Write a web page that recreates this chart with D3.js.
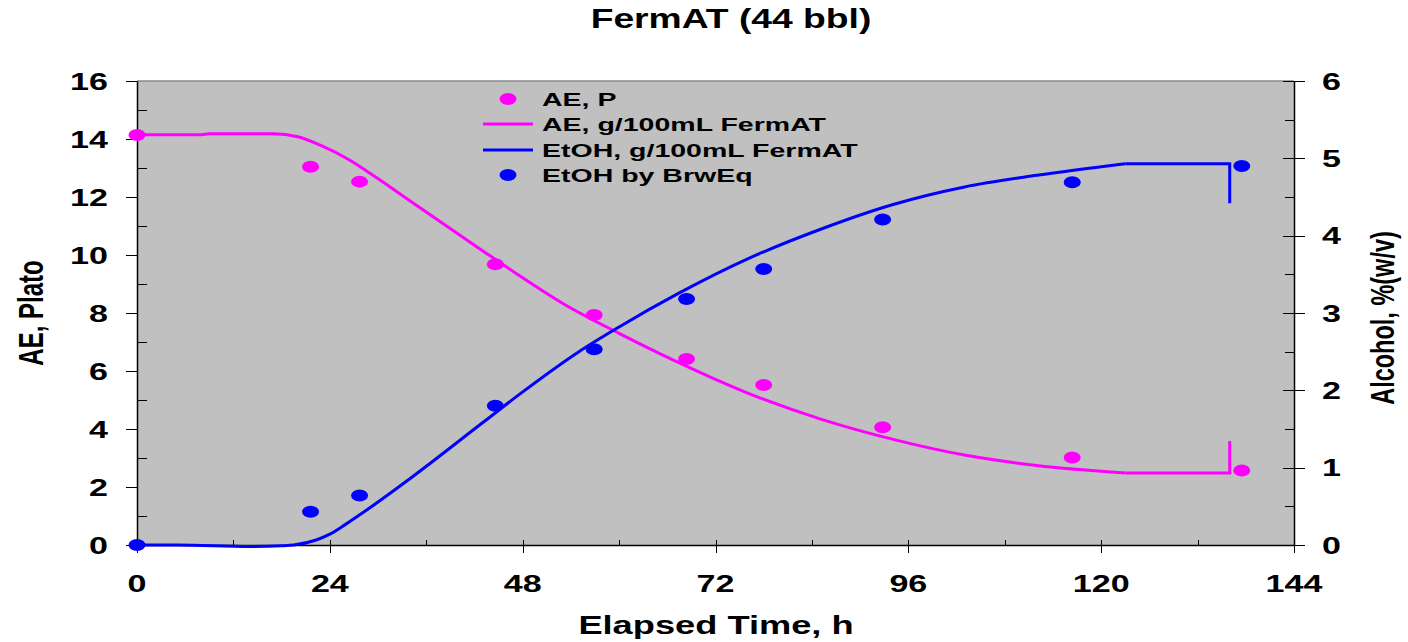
<!DOCTYPE html>
<html lang="en">
<head>
<meta charset="UTF-8">
<title>FermAT (44 bbl)</title>
<script src="https://d3js.org/d3.v7.min.js"></script>
<style>
  body { margin: 0; background: #fff; }
  svg text { font-family: "Liberation Sans", Arial, sans-serif; font-weight: bold; fill: #000; }
  .axis path { stroke: #000; stroke-width: 1.5; fill: none; }
  .axis line { stroke: #000; stroke-width: 1; shape-rendering: crispEdges; }
</style>
</head>
<body>
<script>
// measured samples
var sampleHours  = [0, 21.6, 27.7, 44.6, 56.9, 68.4, 78.0, 92.8, 116.4, 137.5];
var aeSamples    = [14.14, 13.04, 12.53, 9.68, 7.93, 6.41, 5.52, 4.06, 3.02, 2.57];
var etohSamples  = [0, 0.43, 0.64, 1.80, 2.53, 3.18, 3.57, 4.21, 4.69, 4.90];

// FermAT model curves
var aeModelHours = [0, 8, 9, 17, 20, 22.8, 26.5, 29, 35, 43, 47, 53, 60, 67.5, 76, 85, 94, 103, 112, 123, 136, 136];
var aeModel      = [14.15, 14.15, 14.18, 14.18, 14.08, 13.79, 13.27, 12.82, 11.67, 10.15, 9.4, 8.33, 7.3, 6.28, 5.24, 4.35, 3.65, 3.1, 2.74, 2.48, 2.48, 3.59];
var etohModelHours = [0, 5, 14, 18, 19.5, 22.3, 24, 26, 28, 34, 43, 48, 55, 60, 67.5, 76, 85, 94, 103, 112, 123, 136, 136];
var etohModel      = [0, 0, -0.02, -0.01, 0, 0.065, 0.14, 0.27, 0.41, 0.86, 1.58, 1.98, 2.5, 2.82, 3.26, 3.7, 4.08, 4.4, 4.63, 4.78, 4.93, 4.93, 4.42];

// ticks
var xTicks = [0, 24, 48, 72, 96, 120, 144];
var xMinor = [12, 36, 60, 84, 108, 132];
var leftTicks = [0, 2, 4, 6, 8, 10, 12, 14, 16];
var leftMinor = [1, 3, 5, 7, 9, 11, 13, 15];
var rightTicks = [0, 1, 2, 3, 4, 5, 6];
var rightMinor = [0.5, 1.5, 2.5, 3.5, 4.5, 5.5];

var legendItems = ["AE, P", "AE, g/100mL FermAT", "EtOH, g/100mL FermAT", "EtOH by BrwEq"];

var MAGENTA = "#ff00ff", BLUE = "#0000ff";

var margin = {top: 81, right: 114, bottom: 97, left: 137},
    width = 1408 - margin.left - margin.right,
    height = 642 - margin.top - margin.bottom;

var svg = d3.select("body").append("svg")
    .attr("width", 1408)
    .attr("height", 642);

var g = svg.append("g")
    .attr("transform", "translate(" + margin.left + "," + margin.top + ")");

var x = d3.scaleLinear().domain([0, 144]).range([0, width]);
var yL = d3.scaleLinear().domain([0, 16]).range([height, 0]);
var yR = d3.scaleLinear().domain([0, 6]).range([height, 0]);

// stretched text helper (picture is wider than normal Arial)
function label(parent, px, py, str, opts) {
    var t = parent.append("text")
        .attr("transform", "translate(" + px + "," + py + ") scale(" + opts.sx + ",1)" + (opts.rot ? " rotate(-90)" : ""))
        .attr("text-anchor", opts.anchor || "middle")
        .style("font-size", opts.size + "px")
        .text(str);
    if (opts.dy) t.attr("dy", opts.dy);
    return t;
}

// plot background
g.append("rect")
    .attr("width", width)
    .attr("height", height)
    .attr("fill", "#c0c0c0");
g.append("line")
    .attr("x1", 0).attr("x2", width).attr("y1", 0).attr("y2", 0)
    .attr("stroke", "#8a8a8a").attr("stroke-width", 1.5);

// left axis
g.append("g").attr("class", "axis")
    .call(d3.axisLeft(yL).tickValues(leftTicks).tickSize(11).tickSizeOuter(0).tickFormat(""));
g.append("g").attr("class", "axis")
    .call(d3.axisRight(yL).tickValues(leftMinor).tickSize(10).tickSizeOuter(0).tickFormat(""))
    .select(".domain").remove();

// bottom axis
g.append("g").attr("class", "axis")
    .attr("transform", "translate(0," + height + ")")
    .call(d3.axisBottom(x).tickValues(xTicks).tickSize(8).tickSizeOuter(0).tickFormat(""));
g.append("g").attr("class", "axis")
    .attr("transform", "translate(0," + height + ")")
    .call(d3.axisTop(x).tickValues(xTicks.concat(xMinor)).tickSize(5).tickSizeOuter(0).tickFormat(""))
    .select(".domain").remove();

// right axis
g.append("g").attr("class", "axis")
    .attr("transform", "translate(" + width + ",0)")
    .call(d3.axisRight(yR).tickValues(rightTicks).tickSize(11).tickSizeOuter(0).tickFormat(""));
g.append("g").attr("class", "axis")
    .attr("transform", "translate(" + width + ",0)")
    .call(d3.axisLeft(yR).tickValues(rightTicks).tickSize(11).tickSizeOuter(0).tickFormat(""))
    .select(".domain").remove();
g.append("g").attr("class", "axis")
    .attr("transform", "translate(" + width + ",0)")
    .call(d3.axisLeft(yR).tickValues(rightMinor).tickSize(9).tickSizeOuter(0).tickFormat(""))
    .select(".domain").remove();

// tick labels
leftTicks.forEach(function(v) {
    label(g, -29, yL(v), v, {sx: 1.42, size: 24, anchor: "end", dy: "0.36em"});
});
xTicks.forEach(function(v) {
    label(g, x(v), height + 47, v, {sx: 1.42, size: 24});
});
rightTicks.forEach(function(v) {
    label(g, width + 28, yR(v), v, {sx: 1.42, size: 24, anchor: "start", dy: "0.36em"});
});

// model lines: smooth up to the plateau knee, then straight plateau + final drop
function modelLine(hours, vals, yScale, color) {
    var pts = hours.map(function(h, i) { return [h, vals[i]]; });
    var n = pts.length;
    var smooth = d3.line().x(function(d) { return x(d[0]); }).y(function(d) { return yScale(d[1]); })
        .curve(d3.curveMonotoneX);
    var straight = d3.line().x(function(d) { return x(d[0]); }).y(function(d) { return yScale(d[1]); });
    g.append("path").attr("d", smooth(pts.slice(0, n - 2)))
        .attr("fill", "none").attr("stroke", color).attr("stroke-width", 3);
    g.append("path").attr("d", straight(pts.slice(n - 3)))
        .attr("fill", "none").attr("stroke", color).attr("stroke-width", 3)
        .attr("stroke-linejoin", "miter");
}
modelLine(aeModelHours, aeModel, yL, MAGENTA);
modelLine(etohModelHours, etohModel, yR, BLUE);

// sample points
g.selectAll(".ae-pt").data(sampleHours).enter().append("ellipse")
    .attr("class", "ae-pt")
    .attr("cx", function(d) { return x(d); })
    .attr("cy", function(d, i) { return yL(aeSamples[i]); })
    .attr("rx", 8.5).attr("ry", 6)
    .attr("fill", MAGENTA);
g.selectAll(".et-pt").data(sampleHours).enter().append("ellipse")
    .attr("class", "et-pt")
    .attr("cx", function(d) { return x(d); })
    .attr("cy", function(d, i) { return yR(etohSamples[i]); })
    .attr("rx", 8.5).attr("ry", 6)
    .attr("fill", BLUE);

// legend
var legend = svg.append("g");
var rowY = [99, 124, 150, 175];
legend.append("ellipse").attr("cx", 508).attr("cy", rowY[0]).attr("rx", 8.5).attr("ry", 6).attr("fill", MAGENTA);
legend.append("line").attr("x1", 483).attr("x2", 533).attr("y1", rowY[1]).attr("y2", rowY[1])
    .attr("stroke", MAGENTA).attr("stroke-width", 3);
legend.append("line").attr("x1", 483).attr("x2", 533).attr("y1", rowY[2]).attr("y2", rowY[2])
    .attr("stroke", BLUE).attr("stroke-width", 3);
legend.append("ellipse").attr("cx", 508).attr("cy", rowY[3]).attr("rx", 8.5).attr("ry", 6).attr("fill", BLUE);
legendItems.forEach(function(txt, i) {
    label(legend, 542, rowY[i], txt, {sx: 1.5, size: 19, anchor: "start", dy: "0.36em"});
});

// titles
label(svg, 731, 28, "FermAT (44 bbl)", {sx: 1.38, size: 27});
label(svg, 716, 634, "Elapsed Time, h", {sx: 1.45, size: 25});
label(svg, 43, 313, "AE, Plato", {sx: 1.43, size: 24, rot: true});
label(svg, 1394, 318, "Alcohol, %(w/v)", {sx: 1.43, size: 23.5, rot: true});
</script>
</body>
</html>
